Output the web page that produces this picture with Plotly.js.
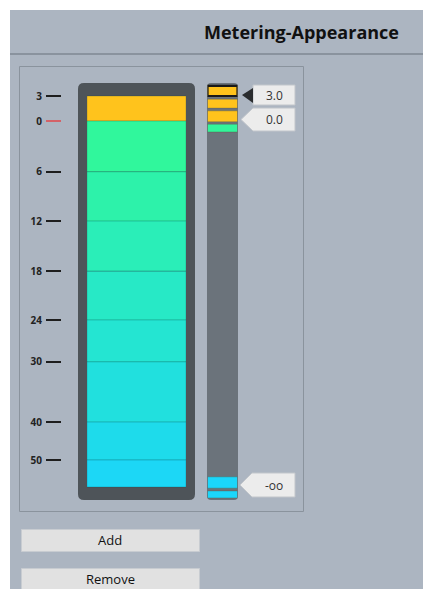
<!DOCTYPE html>
<html><head><meta charset="utf-8">
<script src="https://cdn.plot.ly/plotly-3.0.1.min.js"></script>
<style>html,body{margin:0;padding:0;background:#fff;overflow:hidden}#chart{width:423px;height:589px}</style>
</head><body><div id="chart"></div>
<script>
// ---- data ----
const dbLabels = ['3', '0', '6', '12', '18', '24', '30', '40', '50'];
const meterPos = [1.0, 0.936, 0.806, 0.680, 0.552, 0.427, 0.320, 0.166, 0.069]; // meter scale position of each dB mark
const floorPos = 0; // -oo
const segmentColors = ['#ffc31c', '#30f79c', '#2df2aa', '#2aeeb8', '#27e9c6', '#24e5d2', '#21e0de', '#1edbeb', '#1cd7f6'];
const handleLow = [1.0, 0.969, 0.934, 0.908, -0.003, -0.028];
const handleHigh = [1.026, 0.992, 0.962, 0.928, 0.026, -0.010];
const handleColors = ['#ffc31c', '#ffc31c', '#ffc31c', '#33f59b', '#1bd6fb', '#1bd6fb'];
const handleSelected = [true, false, false, false, false, false];
const markerLabels = ['3.0', '0.0', '-oo'];
const markerPos = [1.0, 0.936, 0];
const markerSelected = [true, false, false];

// ---- layout helpers ----
const W = 423, H = 589;
const BG = '#acb5c1';
const pyTop = 96, pyBot = 487, unitPx = pyBot - pyTop;
const yr = [-0.05, 1.05];
const yDomain = [1 - (pyBot - yr[0] * unitPx) / H, 1 - (pyBot - yr[1] * unitPx) / H];
const P = (x, y) => `${(x / W).toFixed(5)},${(1 - y / H).toFixed(5)}`;
function rr(x0, y0, x1, y1, r) {
  return `M${P(x0 + r, y0)} L${P(x1 - r, y0)} Q${P(x1, y0)} ${P(x1, y0 + r)} L${P(x1, y1 - r)} Q${P(x1, y1)} ${P(x1 - r, y1)} L${P(x0 + r, y1)} Q${P(x0, y1)} ${P(x0, y1 - r)} L${P(x0, y0 + r)} Q${P(x0, y0)} ${P(x0 + r, y0)} Z`;
}
const rect = (x0, y0, x1, y1, fill, line, lw) => ({
  type: 'rect', xref: 'paper', yref: 'paper', x0: x0 / W, x1: x1 / W, y0: 1 - y1 / H, y1: 1 - y0 / H,
  fillcolor: fill, line: {color: line || 'rgba(0,0,0,0)', width: lw || 0}, layer: 'below'
});

// meter segments from the dB marks
const segTop = meterPos;
const segBot = meterPos.slice(1).concat([floorPos]);

const traces = [
  {
    type: 'bar', xaxis: 'x', yaxis: 'y',
    x: segTop.map(() => 0), base: segBot, y: segTop.map((t, i) => t - segBot[i]),
    width: 1, marker: {color: segmentColors, line: {color: 'rgba(0,70,70,0.22)', width: 1}},
    hoverinfo: 'skip', cliponaxis: false
  },
  {
    type: 'bar', xaxis: 'x2', yaxis: 'y',
    x: handleLow.map(() => 0), base: handleLow, y: handleHigh.map((h, i) => h - handleLow[i]),
    width: 1,
    marker: {color: handleColors, line: {color: handleSelected.map(s => s ? '#1a1a1a' : 'rgba(90,90,60,0.35)'), width: handleSelected.map(s => s ? 2.2 : 1)}},
    hoverinfo: 'skip', cliponaxis: false
  }
];

const shapes = [
  rect(10, 10, 423, 589, BG),
  {type: 'line', xref: 'paper', yref: 'paper', x0: 10 / W, x1: 1, y0: 1 - 54 / H, y1: 1 - 54 / H, line: {color: '#8a939e', width: 2}, layer: 'below'},
  rect(19.5, 66.5, 303.5, 511.5, 'rgba(0,0,0,0)', '#8a939d', 1),
  {type: 'path', xref: 'paper', yref: 'paper', path: rr(78, 83, 195, 500, 6), fillcolor: '#4e5459', line: {width: 0}, layer: 'below'},
  {type: 'path', xref: 'paper', yref: 'paper', path: rr(207, 83, 238, 500, 4), fillcolor: '#6b737b', line: {width: 0}, layer: 'below'},
  rect(21.5, 529.5, 199.5, 551.5, '#e1e1e1', '#c8ccd1', 1),
  rect(21.5, 568.5, 199.5, 592, '#e1e1e1', '#c8ccd1', 1),
  // red 0 dB tick (covers the black one)
  {type: 'line', xref: 'paper', yref: 'y', x0: 45 / W, x1: 62 / W, y0: meterPos[1], y1: meterPos[1], line: {color: BG, width: 3}, layer: 'above'},
  {type: 'line', xref: 'paper', yref: 'y', x0: 46 / W, x1: 61 / W, y0: meterPos[1], y1: meterPos[1], line: {color: '#e2474a', width: 1.3}, layer: 'above'}
];

// label boxes (pixel-sized, anchored at the level on the y axis)
const boxGeom = [
  {top: 11, bot: -9, left: 253, apex: 242},
  {top: 13, bot: -10, left: 253, apex: 241},
  {top: 14, bot: -10, left: 252, apex: 240}
];
markerPos.forEach((p, i) => {
  const g = boxGeom[i];
  const mid = (g.top + g.bot) / 2;
  if (markerSelected[i]) {
    shapes.push({type: 'path', xref: 'paper', yref: 'y', xsizemode: 'pixel', xanchor: 0, ysizemode: 'pixel', yanchor: p,
      path: `M${g.left},${g.top} L295,${g.top} L295,${g.bot} L${g.left},${g.bot} Z`, fillcolor: '#ececec', line: {color: '#c2c6cb', width: 1}, layer: 'above'});
    shapes.push({type: 'path', xref: 'paper', yref: 'y', xsizemode: 'pixel', xanchor: 0, ysizemode: 'pixel', yanchor: p,
      path: `M${g.left},${g.top - 3} L${g.apex},${mid} L${g.left},${g.bot + 2} Z`, fillcolor: '#2a2c2e', line: {width: 0}, layer: 'above'});
  } else {
    shapes.push({type: 'path', xref: 'paper', yref: 'y', xsizemode: 'pixel', xanchor: 0, ysizemode: 'pixel', yanchor: p,
      path: `M${g.left},${g.top} L295,${g.top} L295,${g.bot} L${g.left},${g.bot} L${g.apex},${mid} Z`, fillcolor: '#ececec', line: {color: '#c2c6cb', width: 1}, layer: 'above'});
  }
});

const font = 'Open Sans, Liberation Sans, sans-serif';
const annotations = [
  {text: 'Metering-Appearance', xref: 'paper', yref: 'paper', x: 401 / W, y: 1 - 32 / H, xanchor: 'right', yanchor: 'middle', showarrow: false,
   font: {family: font, size: 18, weight: 'bold', color: '#111'}},
  {text: 'Add', xref: 'paper', yref: 'paper', x: 110 / W, y: 1 - 540 / H, xanchor: 'center', yanchor: 'middle', showarrow: false,
   font: {family: font, size: 13, color: '#111'}},
  {text: 'Remove', xref: 'paper', yref: 'paper', x: 110 / W, y: 1 - 579 / H, xanchor: 'center', yanchor: 'middle', showarrow: false,
   font: {family: font, size: 13, color: '#111'}}
];
const textShift = [1, 1.5, 2];
markerLabels.forEach((t, i) => annotations.push({
  text: t, xref: 'paper', yref: 'y', x: 274 / W, y: markerPos[i], yshift: textShift[i], xanchor: 'center', yanchor: 'middle', showarrow: false,
  font: {family: font, size: 12, color: '#333'}
}));

const layout = {
  width: W, height: H, margin: {l: 0, r: 0, t: 0, b: 0},
  paper_bgcolor: '#ffffff', plot_bgcolor: 'rgba(0,0,0,0)',
  showlegend: false, barmode: 'overlay', bargap: 0,
  xaxis: {domain: [87 / W, 186 / W], range: [-0.5, 0.5], visible: false, anchor: 'y', fixedrange: true},
  xaxis2: {domain: [207.5 / W, 237.5 / W], range: [-0.5, 0.5], visible: false, anchor: 'y', fixedrange: true},
  yaxis: {domain: yDomain, range: yr, anchor: 'free', position: 61 / W, side: 'left',
    tickmode: 'array', tickvals: meterPos, ticktext: dbLabels, ticks: 'outside', ticklen: 15, tickwidth: 1.5, tickcolor: '#1e1e1e',
    ticklabelstandoff: 2, tickfont: {family: font, size: 10, weight: 'bold', color: '#222'},
    showgrid: false, zeroline: false, showline: false, fixedrange: true},
  shapes: shapes,
  annotations: annotations
};

Plotly.newPlot('chart', traces, layout, {staticPlot: true, displayModeBar: false});
</script></body></html>
